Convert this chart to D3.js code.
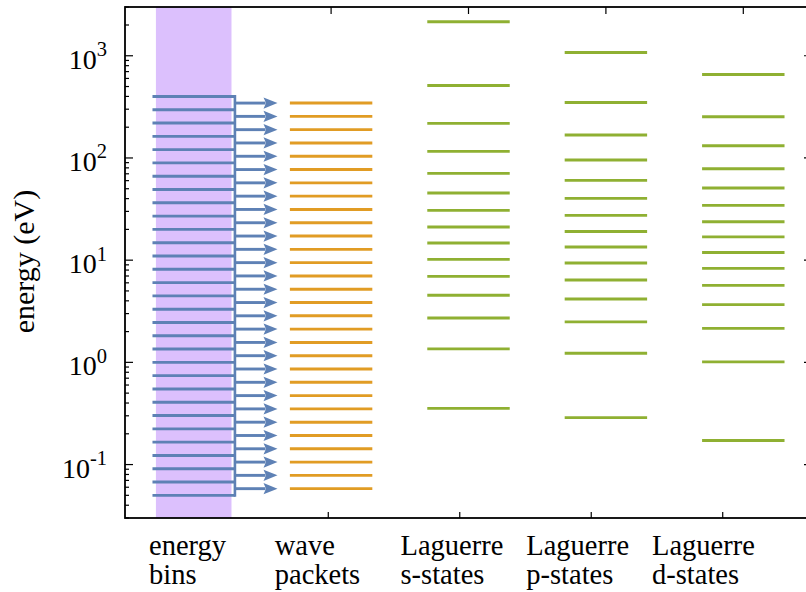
<!DOCTYPE html>
<html>
<head>
<meta charset="utf-8">
<script src="https://cdn.jsdelivr.net/npm/d3@7"></script>
<style>
  body { margin: 0; background: #fff; }
  svg { display: block; }
  text { font-family: "Liberation Serif", "Times New Roman", serif; fill: #000; }
</style>
</head>
<body>
<svg id="chart" width="806" height="592"></svg>
<script>
// Column names (one column per basis) and their two-line captions
const columns = ["energy bins", "wave packets", "Laguerre s-states", "Laguerre p-states", "Laguerre d-states"];
const columnLabels = [["energy", "bins"], ["wave", "packets"], ["Laguerre", "s-states"], ["Laguerre", "p-states"], ["Laguerre", "d-states"]];

// Energy bin edges (eV)
const binEdges = [
  0.05, 0.0675, 0.0910, 0.1228, 0.1657, 0.2236, 0.3017, 0.4071, 0.5493, 0.7411,
  1.0, 1.349, 1.821, 2.457, 3.314, 4.472, 6.034, 8.142, 10.99, 14.82,
  20.0, 26.99, 36.41, 49.13, 66.29, 89.44, 120.7, 162.8, 219.7, 296.5,
  400.0
];

// Wave-packet energies (eV), one per bin
const wavePacketEnergies = [
  0.0581, 0.0784, 0.1057, 0.1427, 0.1925, 0.2598, 0.3505, 0.4729, 0.6381, 0.8610,
  1.162, 1.567, 2.115, 2.854, 3.850, 5.195, 7.009, 9.458, 12.76, 17.22,
  23.23, 31.35, 42.30, 57.07, 77.00, 103.9, 140.2, 189.2, 255.2, 344.4
];

// Laguerre basis eigen-energies (eV)
const sStates = [0.355, 1.354, 2.72, 4.53, 6.94, 10.18, 14.73, 21.1, 30.7, 45.4, 70.6, 115.9, 217.8, 512, 2150];
const pStates = [0.288, 1.226, 2.49, 4.17, 6.40, 9.39, 13.46, 19.1, 27.4, 40.2, 60.3, 95.5, 167.6, 349.4, 1077];
const dStates = [0.1717, 1.01, 2.15, 3.67, 5.67, 8.31, 11.9, 16.9, 23.8, 34.4, 50.8, 78.5, 131.8, 253.2, 656.5];

// Decade ticks on the energy axis
const yTickExponents = [-1, 0, 1, 2, 3];
const yLabel = "energy (eV)";

const colors = { bins: "#5e81b5", packets: "#e19c24", laguerre: "#8fb032", band: "#dcc0fd" };

const svg = d3.select("#chart");
const W = 806, H = 592;
const margin = { left: 125, top: 7, right: -6, bottom: 74 };
const x0 = margin.left, x1 = W - margin.right;
const y0 = margin.top, y1 = H - margin.bottom;

// Column scale (top frame ticks sit on column centres)
const x = d3.scaleLinear().domain([-0.5, 4.5]).range([x0, x1]);
// Bottom frame carries its own tick spacing
const xBottom = d3.scaleLinear().domain([-0.546, 4.679]).range([x0, x1]);
// Caption anchor positions
const xCaption = d3.scaleLinear().domain([0, 4]).range([149, 652]);
const y = d3.scaleLog().domain([0.03, 3000]).range([y1, y0]);

const halfW = 0.3;
const levelWidth = 2.9;

// Highlight band behind the energy bins
svg.append("rect")
  .attr("x", x(-0.275)).attr("y", y0)
  .attr("width", x(0.275) - x(-0.275)).attr("height", y1 - y0)
  .attr("fill", colors.band);

// Energy bin edges
svg.append("g").selectAll("line").data(binEdges).join("line")
  .attr("x1", x(-halfW)).attr("x2", x(halfW))
  .attr("y1", d => y(d)).attr("y2", d => y(d))
  .attr("stroke", colors.bins).attr("stroke-width", levelWidth);

// Vertical connector joining the bin edges
svg.append("line")
  .attr("x1", x(halfW)).attr("x2", x(halfW))
  .attr("y1", y(d3.max(binEdges)) - 1.4).attr("y2", y(d3.min(binEdges)) + 1.4)
  .attr("stroke", colors.bins).attr("stroke-width", 2.6);

// Arrows from each bin to its wave packet
const arrowStart = halfW, arrowTip = 0.61;
const headLen = 14, headHalf = 5.6;
const arrows = svg.append("g");
wavePacketEnergies.forEach(e => {
  const yy = y(e), xs = x(arrowStart), xt = x(arrowTip);
  arrows.append("line")
    .attr("x1", xs).attr("x2", xt - headLen + 2)
    .attr("y1", yy).attr("y2", yy)
    .attr("stroke", colors.bins).attr("stroke-width", levelWidth);
  const p = d3.path();
  p.moveTo(xt, yy);
  p.lineTo(xt - headLen, yy - headHalf);
  p.lineTo(xt - headLen + 2.5, yy);
  p.lineTo(xt - headLen, yy + headHalf);
  p.closePath();
  arrows.append("path").attr("d", p.toString()).attr("fill", colors.bins);
});

// Wave packet levels
svg.append("g").selectAll("line").data(wavePacketEnergies).join("line")
  .attr("x1", x(1 - halfW)).attr("x2", x(1 + halfW))
  .attr("y1", d => y(d)).attr("y2", d => y(d))
  .attr("stroke", colors.packets).attr("stroke-width", levelWidth);

// Laguerre levels
[sStates, pStates, dStates].forEach((levels, i) => {
  const c = i + 2;
  svg.append("g").selectAll("line").data(levels).join("line")
    .attr("x1", x(c - halfW)).attr("x2", x(c + halfW))
    .attr("y1", d => y(d)).attr("y2", d => y(d))
    .attr("stroke", colors.laguerre).attr("stroke-width", levelWidth);
});

// Frame
svg.append("rect")
  .attr("x", x0).attr("y", y0).attr("width", x1 - x0).attr("height", y1 - y0)
  .attr("fill", "none").attr("stroke", "#000").attr("stroke-width", 1.8);

// Log ticks (major decades and minor 2..9)
const [yMin, yMax] = y.domain();
const minor = [];
for (let e = Math.floor(Math.log10(yMin)); e <= Math.ceil(Math.log10(yMax)); e++) {
  for (let k = 2; k <= 9; k++) {
    const v = k * Math.pow(10, e);
    if (v >= yMin && v <= yMax) minor.push(v);
  }
}
const majors = yTickExponents.map(e => Math.pow(10, e));
const ticks = svg.append("g").attr("stroke", "#000").attr("stroke-width", 1.2);
majors.forEach(v => {
  ticks.append("line").attr("x1", x0).attr("x2", x0 + 8).attr("y1", y(v)).attr("y2", y(v));
  ticks.append("line").attr("x1", x1).attr("x2", x1 - 8).attr("y1", y(v)).attr("y2", y(v));
});
minor.forEach(v => {
  ticks.append("line").attr("x1", x0).attr("x2", x0 + 4).attr("y1", y(v)).attr("y2", y(v));
  ticks.append("line").attr("x1", x1).attr("x2", x1 - 4).attr("y1", y(v)).attr("y2", y(v));
});
// Column ticks on top and bottom frames
[1, 2, 3, 4].forEach(c => {
  ticks.append("line").attr("x1", x(c)).attr("x2", x(c)).attr("y1", y0).attr("y2", y0 + 7);
  ticks.append("line").attr("x1", xBottom(c)).attr("x2", xBottom(c)).attr("y1", y1).attr("y2", y1 - 6);
});

// Decade tick labels 10^n
const tl = svg.append("g");
yTickExponents.forEach(e => {
  const t = tl.append("text")
    .attr("x", x0 - 18).attr("y", y(Math.pow(10, e)) + 13)
    .attr("text-anchor", "end").attr("font-size", 28);
  t.append("tspan").text("10");
  t.append("tspan").attr("font-size", 20.5).attr("dy", -12.5).text(String(e));
});

// Axis title
svg.append("text")
  .attr("transform", `translate(34,${(y0 + y1) / 2 - 1}) rotate(-90)`)
  .attr("text-anchor", "middle").attr("font-size", 30)
  .text(yLabel);

// Column captions
columnLabels.forEach((lines, i) => {
  const t = svg.append("text").attr("font-size", 28.5).attr("x", xCaption(i)).attr("y", 555);
  lines.forEach((ln, j) => {
    t.append("tspan").attr("x", xCaption(i)).attr("dy", j === 0 ? 0 : 29).text(ln);
  });
});
</script>
</body>
</html>
